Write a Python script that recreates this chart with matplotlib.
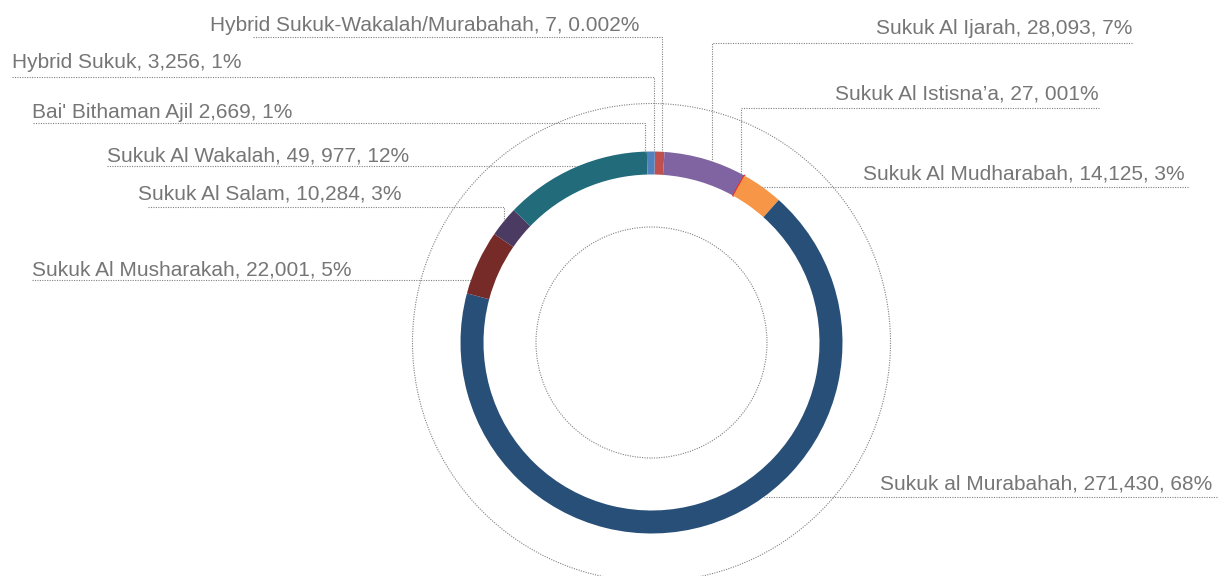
import matplotlib
matplotlib.use("Agg")
import matplotlib.pyplot as plt
import numpy as np
from matplotlib.patches import Circle

# data, clockwise from 12 o'clock
categories = ["Hybrid Sukuk", "Hybrid Sukuk-Wakalah/Murabahah", "Sukuk Al Ijarah",
              "Sukuk Al Istisna'a", "Sukuk Al Mudharabah", "Sukuk al Murabahah",
              "Sukuk Al Musharakah", "Sukuk Al Salam", "Sukuk Al Wakalah",
              "Bai' Bithaman Ajil"]
values = [3256, 7, 28093, 27, 14125, 271430, 22001, 10284, 49977, 2669]
labels = ["Hybrid Sukuk, 3,256, 1%",
          "Hybrid Sukuk-Wakalah/Murabahah, 7, 0.002%",
          "Sukuk Al Ijarah, 28,093, 7%",
          "Sukuk Al Istisna\u2019a, 27, 001%",
          "Sukuk Al Mudharabah, 14,125, 3%",
          "Sukuk al Murabahah, 271,430, 68%",
          "Sukuk Al Musharakah, 22,001, 5%",
          "Sukuk Al Salam, 10,284, 3%",
          "Sukuk Al Wakalah, 49, 977, 12%",
          "Bai' Bithaman Ajil 2,669, 1%"]
colors = ["#C0504D", "#9BBB59", "#8064A2", "#E8302A", "#F79646",
          "#284F77", "#772B29", "#4B3A61", "#216B7B", "#4F81BD"]

# layout in pixels (y from top): text x, align, text baseline y, line y, line far end, elbow x (None = horizontal to ring)
W, H = 1229, 576
CX, CY, R, RW = 651.5, 342.5, 191, 23
layout = [
    (12, "left", 68, 77, 12, 654),
    (210, "left", 31, 37, 253, 662),
    (1132, "right", 34, 43, 1132, 712),
    (1099, "right", 100, 108, 1099, 741),
    (1185, "right", 179, 187, 1188, None),
    (1212, "right", 490, 497, 1217, None),
    (32, "left", 275, 280, 32, None),
    (138, "left", 200, 207, 148, 504),
    (107, "left", 161, 166, 107, None),
    (32, "left", 118, 123, 33, 645),
]

fig = plt.figure(figsize=(W / 100, H / 100), dpi=100)
ax = fig.add_axes([0, 0, 1, 1])

def Y(y):
    return H - y

wedges, _ = ax.pie(values, colors=colors, radius=R, center=(CX, Y(CY)),
                   startangle=89, counterclock=False, frame=True,
                   wedgeprops=dict(width=RW, linewidth=0))
# the tiny Istisna'a slice shows as a thin red line
wedges[3].set_edgecolor(colors[3])
wedges[3].set_linewidth(1.2)

dot = dict(color="#808080", lw=0.8, ls=(0, (1, 1.2)))
ax.add_patch(Circle((CX, Y(CY)), 239, fill=False, **dot))
ax.add_patch(Circle((CX, Y(CY)), 115.5, fill=False, **dot))

for lab, (tx, ha, ty, ly, lend, ex) in zip(labels, layout):
    ax.text(tx, Y(ty), lab, ha=ha, va="baseline", fontsize=15,
            family="Liberation Sans", color="#767676")
    if ex is None:
        # horizontal line meets the outer edge of the ring
        dx = np.sqrt(R ** 2 - (ly - CY) ** 2)
        rx = CX + dx if ha == "right" else CX - dx
        ax.plot([lend, rx], [Y(ly), Y(ly)], **dot)
    else:
        ry = CY - np.sqrt(R ** 2 - (ex - CX) ** 2)
        ax.plot([lend, ex, ex], [Y(ly), Y(ly), Y(ry)], **dot)

ax.set_xlim(0, W)
ax.set_ylim(0, H)
ax.set_aspect("equal")
ax.axis("off")
fig.savefig("out.png", dpi=100, facecolor="white")
